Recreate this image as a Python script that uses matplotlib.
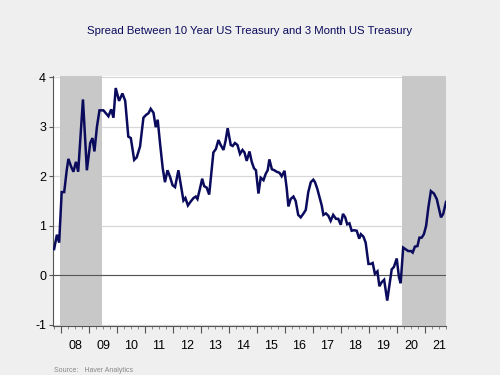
import matplotlib.pyplot as plt
import numpy as np

plt.rcParams['axes.unicode_minus'] = False

# spread (10y - 3m); x in decimal years
years = [2007.75, 2007.85, 2007.93, 2008.02, 2008.11, 2008.20, 2008.26, 2008.36, 2008.44, 2008.53,
         2008.61, 2008.78, 2008.92, 2009.04, 2009.12, 2009.19, 2009.28, 2009.37, 2009.51, 2009.69,
         2009.79, 2009.87, 2009.95, 2010.07, 2010.19, 2010.29, 2010.40, 2010.49, 2010.61, 2010.70,
         2010.82, 2010.94, 2011.04, 2011.12, 2011.20, 2011.30, 2011.38, 2011.45, 2011.54, 2011.63,
         2011.71, 2011.80, 2011.89, 2011.98, 2012.07, 2012.19, 2012.28, 2012.37, 2012.44, 2012.53,
         2012.63, 2012.73, 2012.81, 2012.87, 2012.96, 2013.04, 2013.11, 2013.20, 2013.29, 2013.44,
         2013.53, 2013.62, 2013.70, 2013.80, 2013.87, 2013.95, 2014.06, 2014.13, 2014.21, 2014.30,
         2014.39, 2014.48, 2014.55, 2014.63, 2014.73, 2014.81, 2014.89, 2014.96, 2015.05, 2015.13,
         2015.23, 2015.31, 2015.38, 2015.44, 2015.53, 2015.62, 2015.70, 2015.80, 2015.88, 2015.98,
         2016.06, 2016.12, 2016.20, 2016.30, 2016.38, 2016.47, 2016.56, 2016.65, 2016.74, 2016.83,
         2016.92, 2017.01, 2017.07, 2017.15, 2017.25, 2017.31, 2017.37, 2017.46, 2017.55, 2017.63,
         2017.72, 2017.82, 2017.90, 2017.99, 2018.07, 2018.15, 2018.22, 2018.30, 2018.38, 2018.46,
         2018.56, 2018.65, 2018.71, 2018.80, 2018.88, 2018.98, 2019.06, 2019.13, 2019.21, 2019.30,
         2019.37, 2019.45, 2019.54, 2019.65, 2019.81, 2019.89, 2019.99, 2020.07, 2020.13, 2020.22,
         2020.32, 2020.40, 2020.50, 2020.56, 2020.64, 2020.73, 2020.80, 2020.88, 2020.96, 2021.04,
         2021.12, 2021.21, 2021.32, 2021.42, 2021.50, 2021.57, 2021.65, 2021.75]
spread = [0.53, 0.82, 0.66, 1.68, 1.68, 2.12, 2.35, 2.19, 2.09, 2.29,
          2.09, 3.55, 2.12, 2.67, 2.77, 2.50, 3.00, 3.33, 3.33, 3.21,
          3.35, 3.18, 3.78, 3.52, 3.67, 3.52, 2.80, 2.77, 2.33, 2.38,
          2.60, 3.18, 3.24, 3.27, 3.36, 3.28, 2.99, 3.14, 2.63, 2.16,
          1.88, 2.12, 1.99, 1.82, 1.78, 2.12, 1.82, 1.51, 1.56, 1.41,
          1.49, 1.56, 1.59, 1.54, 1.75, 1.95, 1.80, 1.77, 1.63, 2.48,
          2.55, 2.73, 2.63, 2.53, 2.70, 2.97, 2.63, 2.61, 2.67, 2.63,
          2.45, 2.53, 2.48, 2.31, 2.50, 2.29, 2.16, 2.12, 1.65, 1.97,
          1.92, 2.05, 2.12, 2.34, 2.14, 2.12, 2.09, 2.07, 2.00, 2.11,
          1.75, 1.39, 1.54, 1.59, 1.50, 1.22, 1.17, 1.24, 1.32, 1.68,
          1.88, 1.93, 1.88, 1.75, 1.54, 1.41, 1.22, 1.25, 1.20, 1.10,
          1.22, 1.14, 1.14, 1.02, 1.24, 1.17, 1.03, 1.05, 0.90, 0.91,
          0.90, 0.74, 0.83, 0.78, 0.66, 0.23, 0.23, 0.25, 0.03, 0.08,
          -0.22, -0.14, -0.09, -0.51, 0.12, 0.17, 0.34, -0.04, -0.16, 0.56,
          0.52, 0.49, 0.49, 0.46, 0.58, 0.59, 0.76, 0.76, 0.83, 1.00,
          1.37, 1.70, 1.65, 1.54, 1.34, 1.17, 1.24, 1.48]

recessions = [(2007.96, 2009.45), (2020.17, 2021.75)]
year_labels = ['08', '09', '10', '11', '12', '13', '14', '15', '16', '17', '18', '19', '20', '21']
first_year = 2008

navy = '#0b0b5e'
bg = '#efefef'

fig = plt.figure(figsize=(5, 3.75), dpi=100, facecolor=bg)
ax = fig.add_axes([0.106, 0.131, 0.786, 0.666])
ax.set_facecolor('white')

for start, end in recessions:
    ax.axvspan(start, end, color='#c8c8c8', lw=0, zorder=1)

ax.axhline(0, color='#555555', lw=0.8, zorder=2)
ax.plot(years, spread, color=navy, lw=1.8, zorder=3, solid_joinstyle='miter')

ax.set_xlim(2007.71, 2021.75)
ax.set_ylim(-1.02, 4.02)
ax.set_yticks([-1, 0, 1, 2, 3, 4])
ax.yaxis.grid(True, color='#d8d8d8', lw=0.9, zorder=0)
ax.set_axisbelow(True)

# year boundaries as long ticks, quarters as short ones
ax.set_xticks(np.arange(first_year, first_year + len(year_labels)))
ax.set_xticklabels([])
ax.set_xticks(np.arange(2007.75, 2021.76, 0.25), minor=True)
ax.tick_params(axis='x', which='major', length=5, width=0.8, color='#555555')
ax.tick_params(axis='x', which='minor', length=2.5, width=0.6, color='#777777')
ax.tick_params(axis='y', length=3, width=0.8, color='#555555', labelsize=9, pad=2)

for i, lab in enumerate(year_labels):
    ax.text(first_year + i + 0.5, -0.055, lab, transform=ax.get_xaxis_transform(),
            ha='center', va='top', fontsize=9, family='Liberation Sans')

for lab in ax.get_yticklabels():
    lab.set_family('Liberation Sans')

for side in ['top', 'right']:
    ax.spines[side].set_visible(False)
for side in ['left', 'bottom']:
    ax.spines[side].set_color('#555555')
    ax.spines[side].set_linewidth(0.8)

fig.text(0.5, 0.918, 'Spread Between 10 Year US Treasury and 3 Month US Treasury',
         ha='center', va='center', color=navy, fontsize=8.2, family='Liberation Sans')
fig.text(0.108, 0.004, 'Source:   Haver Analytics', ha='left', va='bottom',
         color='#888888', fontsize=5, family='Liberation Sans')

fig.savefig('out.png', dpi=100, facecolor=bg)
